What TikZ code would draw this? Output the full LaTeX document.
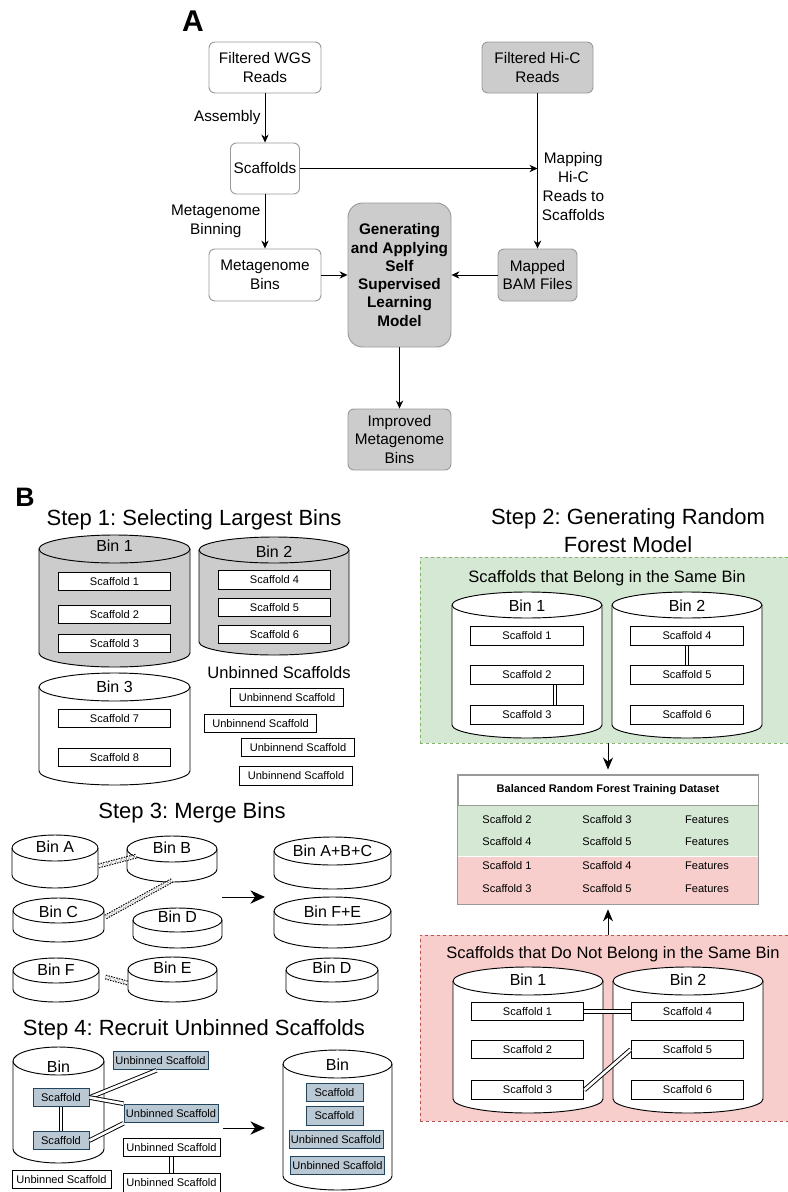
\documentclass[tikz,border=0pt]{standalone}
\usepackage{fontspec}
\setmainfont{Liberation Sans}
\usetikzlibrary{arrows.meta,positioning,calc}
\frenchspacing

\definecolor{boxgrey}{HTML}{CCCCCC}
\definecolor{edgegrey}{HTML}{999999}
\definecolor{samefill}{HTML}{D5E8D4}
\definecolor{sameline}{HTML}{82B366}
\definecolor{difffill}{HTML}{F8CECC}
\definecolor{diffline}{HTML}{B85450}
\definecolor{recruitfill}{HTML}{BAC8D3}
\definecolor{recruitline}{HTML}{23445D}

\newcommand{\flowfont}{\fontsize{11.5}{14.2}\selectfont}
\newcommand{\stepfont}{\fontsize{16.5}{21}\selectfont}
\newcommand{\binfont}{\fontsize{12}{14}\selectfont}
\newcommand{\groupfont}{\fontsize{12.4}{15}\selectfont}
\newcommand{\scaffont}{\fontsize{8.3}{10}\selectfont}

% bin cylinder: name, left, top, right, bottom, ry, fill, label, label baseline
\newcommand{\drawbin}[9]{%
  \pgfmathsetmacro\binrx{(#4-#2)/2}%
  \pgfmathsetmacro\binw{(#4-#2)*0.75}%
  \pgfmathsetmacro\binh{(#5-#3)*0.75}%
  \filldraw[fill=#7] (#2,#3+#6) arc[start angle=180, end angle=360, x radius=\binrx, y radius=#6]
    -- (#4,#5-#6) arc[start angle=0, end angle=180, x radius=\binrx, y radius=#6] -- cycle;
  \draw (#2,#3+#6) arc[start angle=180, end angle=0, x radius=\binrx, y radius=#6];
  \node[minimum width=\binw pt, minimum height=\binh pt] (#1) at ({(#2+#4)/2},{(#3+#5)/2}) {};
  \node[binlabel] (#1-lbl) at ({(#2+#4)/2},#9) {#8};
}

\begin{document}
\begin{tikzpicture}[
  x=0.75pt, y=-0.75pt, line width=0.7pt,
  every node/.style = {inner sep=0pt},
  flowbox/.style = {draw=edgegrey, fill=white, rounded corners=4.5pt, align=center, font=\flowfont},
  flowgrey/.style = {flowbox, fill=boxgrey},
  flowarrow/.style = {-{Stealth[length=6pt,width=5.5pt]}},
  steptitle/.style = {font=\stepfont, anchor=base, align=center},
  binlabel/.style = {font=\binfont, anchor=base},
  grouphead/.style = {font=\groupfont, anchor=base},
  scaf/.style = {draw, fill=white, font=\scaffont, minimum width=84.5pt, minimum height=14pt},
  recruit/.style = {scaf, fill=recruitfill, draw=recruitline},
  link/.style = {double=white, double distance=2pt},
  merge/.style = {double=white, double distance=2pt, line width=0.8pt, dash pattern=on 1.1pt off 0.9pt},
  midarrow/.style = {-{Stealth[length=9pt,width=7.5pt]}, shorten >=3.75pt},
  bigarrow/.style = {-{Stealth[length=11pt,width=10pt]}},
  groupbox/.style = {minimum width=277.5pt, minimum height=139.5pt, dash pattern=on 2.5pt off 2pt}
]
  \useasboundingbox (0,0) rectangle (788,1192);

  % A: pipeline
  \node[font=\fontsize{22.5}{27}\selectfont\bfseries] (lblA) at (193,21) {A};
  \node[flowbox, minimum width=84pt, minimum height=38.25pt] (wgs) at (265,67.5) {Filtered WGS\\Reads};
  \node[flowgrey, minimum width=83.25pt, minimum height=38.25pt] (hic) at (537.5,67.5) {Filtered Hi-C\\Reads};
  \node[flowbox, minimum width=51.75pt, minimum height=38.25pt] (scafA) at (265,168.5) {Scaffolds};
  \node[flowbox, minimum width=84pt, minimum height=39pt] (mbins) at (265,275) {Metagenome\\Bins};
  \node[flowgrey, rounded corners=11pt, minimum width=77.25pt, minimum height=108pt,
        font=\fontsize{11.5}{13.7}\selectfont\bfseries] (model) at (399.5,275)
        {Generating\\and Applying\\Self\\Supervised\\Learning\\Model};
  \node[flowgrey, minimum width=59.25pt, minimum height=39pt] (bam) at (537.5,275) {Mapped\\BAM Files};
  \node[flowgrey, minimum width=77.25pt, minimum height=45.75pt] (improved) at (399.5,439.5) {Improved\\Metagenome\\Bins};

  \draw[flowarrow] (wgs) -- node[left=3pt, font=\flowfont] (asm) {Assembly} (scafA);
  \draw[flowarrow] (scafA) -- node[left=3pt, font=\flowfont, align=center] (binning) {Metagenome\\Binning} (mbins);
  \draw[flowarrow] (scafA) -- (scafA -| hic);
  \draw[flowarrow] (hic) -- node[right=3pt, pos=0.6, font=\flowfont, align=center] (mapping) {Mapping\\Hi-C\\Reads to\\Scaffolds} (bam);
  \draw[flowarrow] (mbins) -- (model);
  \draw[flowarrow] (bam) -- (model);
  \draw[flowarrow] (model) -- (improved);

  % B, step 1
  \node[font=\fontsize{20}{24}\selectfont\bfseries] (lblB) at (25,497) {B};
  \node[steptitle] (step1) at (194,525) {Step 1: Selecting Largest Bins};
  \drawbin{s1bin1}{39}{535}{190}{667}{14}{boxgrey}{Bin 1}{551}
  \foreach \n/\yy in {1/581.5, 2/614.5, 3/643.5}
    \node[scaf] (s1sc\n) at (114.5,\yy) {Scaffold \n};
  \drawbin{s1bin2}{199}{537}{349}{655}{13}{boxgrey}{Bin 2}{557}
  \foreach \n/\yy in {4/580, 5/607.5, 6/634.5}
    \node[scaf] (s1sc\n) at (274.5,\yy) {Scaffold \n};
  \drawbin{s1bin3}{39}{673}{190}{785}{14}{white}{Bin 3}{692}
  \foreach \n/\yy in {7/718.5, 8/757.5}
    \node[scaf] (s1sc\n) at (114.5,\yy) {Scaffold \n};
  \node[grouphead] (unbhead) at (279,678) {Unbinned Scaffolds};
  \foreach \n/\xx/\yy in {1/287/697.5, 2/260.5/723.5, 3/298/747.5, 4/296/776}
    \node[scaf] (unb\n) at (\xx,\yy) {Unbinnend Scaffold};

  % step 2
  \node[steptitle, anchor=center] (step2) at (628,531) {Step 2: Generating Random\\Forest Model};
  \node[groupbox, draw=sameline, fill=samefill] (samebox) at (605,650) {};
  \node[grouphead] (samehead) at (607,582) {Scaffolds that Belong in the Same Bin};
  \drawbin{gbin1}{452}{592}{602}{738}{13}{white}{Bin 1}{611}
  \drawbin{gbin2}{612}{592}{762}{738}{13}{white}{Bin 2}{611}
  \foreach \n/\yy in {1/636, 2/675, 3/715}
    \node[scaf] (g\n) at (527,\yy) {Scaffold \n};
  \foreach \n/\yy in {4/636, 5/675, 6/715}
    \node[scaf] (g\n) at (687,\yy) {Scaffold \n};
  \draw[link] ([xshift=21pt]g2.south) -- ([xshift=21pt]g3.north);
  \draw[link] (g4) -- (g5);

  \node[draw=edgegrey, fill=white, minimum width=225pt, minimum height=22.5pt, font=\scaffont\bfseries] (tabhead) at (608,790)
        {Balanced Random Forest Training Dataset};
  \node[fill=samefill, minimum width=225pt, minimum height=37.5pt, below=0pt of tabhead] (tabsame) {};
  \node[fill=difffill, minimum width=225pt, minimum height=35.25pt, below=0pt of tabsame] (tabdiff) {};
  \draw[edgegrey] (tabhead.north west) rectangle (tabdiff.south east);
  \foreach \ca/\cb/\yy in {2/3/820, 4/5/842, 1/4/866, 3/5/889} {
    \node[font=\scaffont] (ca-\yy) at (507,\yy) {Scaffold \ca};
    \node[font=\scaffont] (cb-\yy) at (607,\yy) {Scaffold \cb};
    \node[font=\scaffont] (cf-\yy) at (707,\yy) {Features};
  }

  \node[groupbox, draw=diffline, fill=difffill] (diffbox) at (605,1028) {};
  \node[grouphead] (diffhead) at (613,958) {Scaffolds that Do Not Belong in the Same Bin};
  \drawbin{rbin1}{453}{967}{603}{1113}{14}{white}{Bin 1}{985}
  \drawbin{rbin2}{613}{967}{763}{1113}{14}{white}{Bin 2}{985}
  \foreach \n/\yy in {1/1011.5, 2/1049.5, 3/1090}
    \node[scaf] (r\n) at (527.5,\yy) {Scaffold \n};
  \foreach \n/\yy in {4/1011.5, 5/1049.5, 6/1090}
    \node[scaf] (r\n) at (687.5,\yy) {Scaffold \n};
  \draw[link] (r1) -- (r4);
  \draw[link] (r3.east) -- (r5.west);

  \draw[midarrow] (samebox.south -| tabhead.north) -- (tabhead.north);
  \draw[midarrow] (diffbox.north -| tabdiff.south) -- (tabdiff.south);

  % step 3
  \node[steptitle] (step3) at (192,818) {Step 3: Merge Bins};
  \drawbin{binA}{12}{835}{98}{888}{13}{white}{Bin A}{852}
  \drawbin{binB}{127}{836}{217}{882}{13}{white}{Bin B}{853}
  \drawbin{binC}{13}{898}{104}{942}{12.5}{white}{Bin C}{917}
  \drawbin{binD}{133}{908}{222}{948}{12}{white}{Bin D}{922}
  \drawbin{binF}{13}{958}{99}{1002}{12.5}{white}{Bin F}{975}
  \drawbin{binE}{128}{957}{217}{1002}{12.5}{white}{Bin E}{973}
  \draw[merge] ($(binA.east)+(0,4.5)$) -- ($(binB.west)+(10,-3)$);
  \draw[merge] ($(binC.east)+(1,-3)$) -- ($(binB.south)+(0,-2)$);
  \draw[merge] ($(binF.east)+(6,-3)$) -- ($(binE.west)+(0,3.5)$);
  \coordinate (mergefrom) at (222,897);
  \coordinate (mergeto) at (265,897);
  \draw[bigarrow] (mergefrom) -- (mergeto);
  \drawbin{binABC}{274}{837}{391}{889}{14}{white}{Bin A+B+C}{856}
  \drawbin{binFE}{274}{897}{391}{948}{14}{white}{Bin F+E}{917}
  \drawbin{binDr}{286}{958}{378}{1002}{12}{white}{Bin D}{973}

  % step 4
  \node[steptitle] (step4) at (194,1035) {Step 4: Recruit Unbinned Scaffolds};
  \drawbin{binL}{13}{1047}{104}{1163}{14}{white}{Bin}{1072}
  \node[recruit, minimum width=42pt] (sU) at (61,1097.5) {Scaffold};
  \node[recruit, minimum width=42pt] (sL) at (61,1140.5) {Scaffold};
  \node[recruit, minimum width=71.25pt] (u1) at (160.5,1060.5) {Unbinned Scaffold};
  \node[recruit, minimum width=70.5pt] (u2) at (171,1113.5) {Unbinned Scaffold};
  \node[scaf, minimum width=72.75pt] (w1) at (171.5,1147.5) {Unbinned Scaffold};
  \node[scaf, minimum width=72.75pt] (w2) at (171.5,1183) {Unbinned Scaffold};
  \node[scaf, minimum width=74.25pt, minimum height=13.5pt] (w3) at (61.5,1179.5) {Unbinned Scaffold};
  \draw[link] (sU) -- (sL);
  \draw[link] (sU.east) -- ($(u1.south)+(-4,0)$);
  \draw[link] (sU.east) -- (u2.north west);
  \draw[link] (sL.east) -- (u2.south west);
  \draw[link] (w1) -- (w2);
  \coordinate (recruitfrom) at (223,1128);
  \coordinate (recruitto) at (265,1128);
  \draw[bigarrow] (recruitfrom) -- (recruitto);
  \drawbin{binR}{283}{1050}{392}{1190}{14}{white}{Bin}{1070}
  \node[recruit, minimum width=42.75pt] (rs1) at (334.5,1092.5) {Scaffold};
  \node[recruit, minimum width=42.75pt] (rs2) at (334.5,1116) {Scaffold};
  \node[recruit, minimum width=70.5pt] (ru1) at (336,1139.5) {Unbinned Scaffold};
  \node[recruit, minimum width=70.5pt] (ru2) at (337.5,1165.5) {Unbinned Scaffold};
\end{tikzpicture}
\end{document}
